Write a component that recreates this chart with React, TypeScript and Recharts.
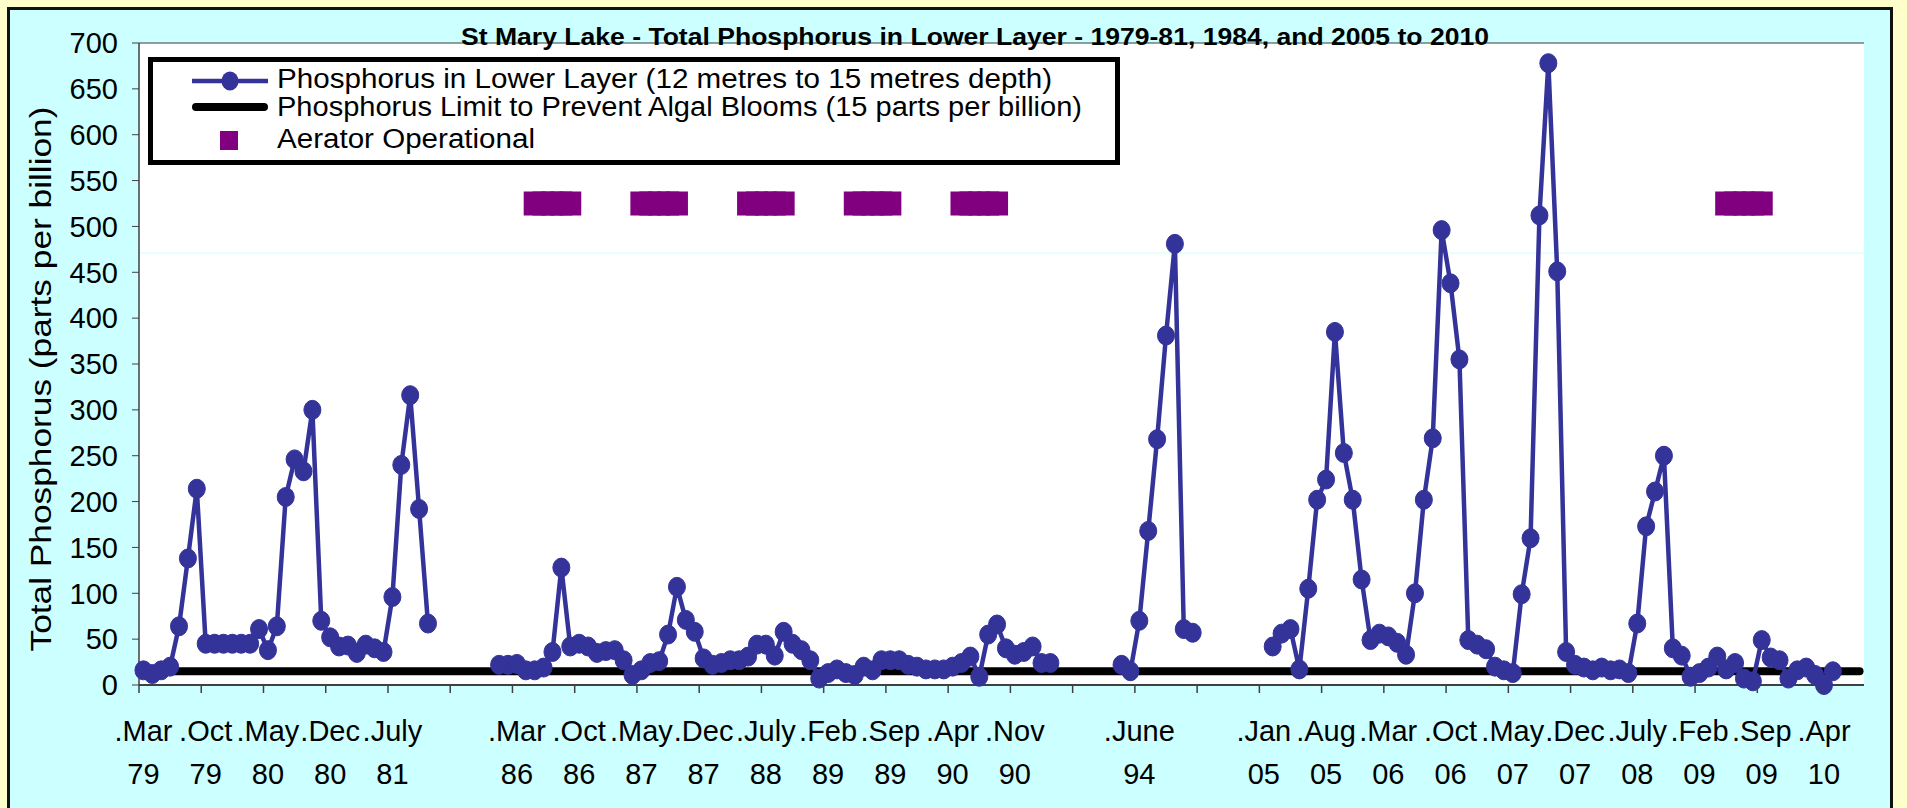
import React from 'react';
import { LineChart, Line, XAxis, YAxis, CartesianGrid, ReferenceLine, Legend } from 'recharts';

// ---------- data ----------
const monthTicks = ['Mar', 'Oct', 'May', 'Dec', 'July', '', 'Mar', 'Oct', 'May', 'Dec', 'July', 'Feb', 'Sep', 'Apr', 'Nov', '', 'June', '', 'Jan', 'Aug', 'Mar', 'Oct', 'May', 'Dec', 'July', 'Feb', 'Sep', 'Apr'];
const yearTicks = ['79', '79', '80', '80', '81', '', '86', '86', '87', '87', '88', '89', '89', '90', '90', '', '94', '', '05', '05', '06', '06', '07', '07', '08', '09', '09', '10'];

// monthly samples (one category per month, blank months between campaigns)
const phosphorus: (number | null)[] = [
  // 1979-81
  16, 12, 16, 20, 64, 138, 214, 45, 45, 45, 45, 45, 45, 61, 38, 64, 205, 246, 233, 300, 70, 52, 42, 43, 35, 44, 40, 36, 96, 240, 316, 192, 67,
  null, null, null, null, null, null, null,
  // 1986-91
  22, 22, 23, 16, 16, 19, 36, 128, 42, 45, 42, 35, 37, 38, 27, 11, 16, 24, 26, 55, 107, 71, 58, 29, 22, 24, 27, 27, 31, 44, 44, 32, 58, 45, 38, 27, 7, 13, 17, 13, 11, 20, 16, 27, 27, 27, 22, 20, 17, 17, 17, 20, 24, 31, 9, 55, 66, 40, 33, 36, 42, 24, 24,
  null, null, null, null, null, null, null,
  // 1994
  22, 15, 70, 168, 268, 381, 481, 61, 57,
  null, null, null, null, null, null, null, null,
  // 2005-10
  42, 56, 61, 17, 105, 202, 224, 385, 253, 202, 115, 49, 56, 53, 46, 33, 100, 202, 269, 496, 438, 355, 49, 44, 39, 20, 16, 13, 99, 160, 512, 678, 451, 36, 22, 19, 16, 19, 16, 17, 13, 67, 173, 211, 250, 40, 32, 9, 13, 19, 31, 17, 24, 7, 4, 49, 30, 27, 7, 16, 19, 11, 0, 15,
  null, null, null,
];
const LIMIT = 15;
const aeratorMonths = [44, 45, 46, 47, 48, 56, 57, 58, 59, 60, 68, 69, 70, 71, 72, 80, 81, 82, 83, 84, 92, 93, 94, 95, 96, 178, 179, 180, 181, 182];
const AERATOR_LEVEL = 525;
const yTicks = [0, 50, 100, 150, 200, 250, 300, 350, 400, 450, 500, 550, 600, 650, 700];

const TITLE = 'St Mary Lake - Total Phosphorus in Lower Layer - 1979-81, 1984, and 2005 to 2010';
const Y_TITLE = 'Total Phosphorus (parts per billion)';
const LEGEND_ITEMS = [
  'Phosphorus in Lower Layer (12 metres to 15 metres depth)',
  'Phosphorus Limit to Prevent Algal Blooms (15 parts per billion)',
  'Aerator Operational',
];
const LEGEND_TEXT_W = [775, 805, 258];

// ---------- layout ----------
const W = 1907;
const H = 808;
const MARGIN = { top: 43, right: 43, bottom: 23, left: 69 };
const Y_AXIS_W = 70;
const X_AXIS_H = 100;
const PLOT_W = W - MARGIN.left - MARGIN.right - Y_AXIS_W;
const HALF = PLOT_W / phosphorus.length / 2;
const FONT = '"Liberation Sans", Arial, sans-serif';
const BLUE = '#333399';
const PURPLE = '#800080';

const data = phosphorus.map((v, i) => ({
  cat: i,
  p: v,
  limit: LIMIT,
  aer: aeratorMonths.includes(i) ? AERATOR_LEVEL : null,
}));

const XTick = (props: any) => {
  const { x, y, payload } = props;
  const k = Math.round(payload.value / 7);
  const m = monthTicks[k];
  const yr = yearTicks[k];
  return (
    <g>
      <line x1={x - HALF} x2={x - HALF} y1={y} y2={y + 8} stroke="#404040" strokeWidth={1.5} />
      {m ? (
        <text x={x} y={y + 46} textAnchor="middle" dominantBaseline="central" fontSize={29} fontFamily={FONT} fill="#000">
          {'.' + m}
        </text>
      ) : null}
      {yr ? (
        <text x={x} y={y + 89} textAnchor="middle" dominantBaseline="central" fontSize={29} fontFamily={FONT} fill="#000">
          {yr}
        </text>
      ) : null}
    </g>
  );
};

const BlueDot = (props: any) => {
  const { cx, cy, value, index } = props;
  if (value == null || cy == null) return <g key={`b-${index}`} />;
  return <ellipse key={`b-${index}`} cx={cx} cy={cy} rx={8.5} ry={9.5} fill={BLUE} stroke={BLUE} />;
};

const SquareDot = (props: any) => {
  const { cx, cy, value, index } = props;
  if (value == null || cy == null) return <g key={`s-${index}`} />;
  return <rect key={`s-${index}`} x={cx - 11} y={cy - 12} width={22} height={24} fill={PURPLE} />;
};

const LegendBox = () => (
  <svg width={972} height={108} style={{ display: 'block' }}>
    <rect x={2.5} y={2.5} width={967} height={103} fill="#fff" stroke="#000" strokeWidth={5} />
    <line x1={44} x2={120} y1={24} y2={24} stroke={BLUE} strokeWidth={4.5} />
    <ellipse cx={82} cy={24} rx={8.5} ry={9.5} fill={BLUE} />
    <line x1={48} x2={116} y1={50} y2={50} stroke="#000" strokeWidth={8} strokeLinecap="round" />
    <rect x={72} y={74} width={18} height={19} fill={PURPLE} />
    {LEGEND_ITEMS.map((t, i) => (
      <text
        key={t}
        x={129}
        y={[22, 50, 82][i]}
        dominantBaseline="central"
        fontSize={27}
        fontFamily={FONT}
        textLength={LEGEND_TEXT_W[i]}
        lengthAdjust="spacingAndGlyphs"
        fill="#000"
      >
        {t}
      </text>
    ))}
  </svg>
);

export default function App() {
  return (
    <div style={{ position: 'absolute', left: 0, top: 0, width: W, height: H, background: '#FFFFCC', overflow: 'hidden' }}>
      <div
        style={{
          position: 'absolute',
          left: 7,
          top: 7,
          width: 1880,
          height: 820,
          background: '#CCFFFF',
          border: '3px solid #111',
        }}
      />
      <div style={{ position: 'absolute', left: 0, top: 0 }}>
        <LineChart width={W} height={H} data={data} margin={MARGIN}>
          <CartesianGrid horizontal vertical={false} fill="#ffffff" stroke="#3a3a3a" strokeWidth={1.2} />
          <ReferenceLine yAxisId="left" y={471} stroke="#CCFFFF" strokeWidth={1} />
          <XAxis
            dataKey="cat"
            type="category"
            interval={6}
            padding={{ left: HALF, right: HALF }}
            height={X_AXIS_H}
            tickSize={0}
            tickMargin={0}
            tickLine={false}
            axisLine={{ stroke: '#404040', strokeWidth: 2 }}
            tick={<XTick />}
          />
          <YAxis
            yAxisId="left"
            type="number"
            domain={[0, 700]}
            ticks={yTicks}
            interval={0}
            width={Y_AXIS_W}
            tickSize={7}
            tickMargin={14}
            axisLine={{ stroke: '#404040', strokeWidth: 1.5 }}
            tickLine={{ stroke: '#404040' }}
            tick={{ fill: '#000', fontSize: 29, fontFamily: FONT }}
          />
          <YAxis
            yAxisId="right"
            orientation="right"
            type="number"
            domain={[0, 700]}
            width={0}
            tick={false}
            tickLine={false}
            axisLine={{ stroke: '#404040', strokeWidth: 2 }}
          />
          <Legend
            layout="vertical"
            align="center"
            verticalAlign="middle"
            wrapperStyle={{ left: 148, top: 57, width: 972, height: 108 }}
            content={() => <LegendBox />}
          />
          <Line
            yAxisId="left"
            dataKey="limit"
            stroke="#000"
            strokeWidth={8}
            strokeLinecap="round"
            dot={false}
            activeDot={false}
            isAnimationActive={false}
          />
          <Line
            yAxisId="left"
            dataKey="aer"
            stroke="none"
            dot={SquareDot}
            activeDot={false}
            isAnimationActive={false}
          />
          <Line
            yAxisId="left"
            dataKey="p"
            stroke={BLUE}
            strokeWidth={4.5}
            dot={BlueDot}
            activeDot={false}
            isAnimationActive={false}
          />
        </LineChart>
      </div>
      <svg width={W} height={H} style={{ position: 'absolute', left: 0, top: 0, pointerEvents: 'none' }}>
        <text
          x={975}
          y={45}
          textAnchor="middle"
          fontWeight="bold"
          fontSize={24}
          fontFamily={FONT}
          textLength={1028}
          lengthAdjust="spacingAndGlyphs"
          fill="#000"
        >
          {TITLE}
        </text>
        <text
          transform="translate(40,379) rotate(-90)"
          textAnchor="middle"
          dominantBaseline="central"
          fontSize={30}
          fontFamily={FONT}
          textLength={545}
          lengthAdjust="spacingAndGlyphs"
          fill="#000"
        >
          {Y_TITLE}
        </text>
      </svg>
    </div>
  );
}
